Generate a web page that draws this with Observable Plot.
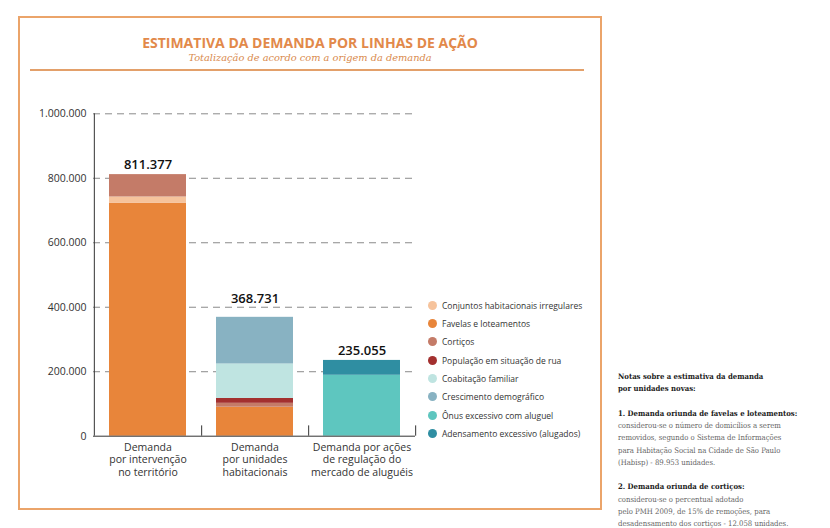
<!DOCTYPE html>
<html>
<head>
<meta charset="utf-8">
<script src="https://cdn.jsdelivr.net/npm/d3@7"></script>
<script src="https://cdn.jsdelivr.net/npm/@observablehq/plot@0.6"></script>
<style>
  html, body { margin: 0; padding: 0; background: #fff; }
  #page { position: relative; width: 830px; height: 528px; overflow: hidden; font-family: "Open Sans", sans-serif; }
  #frame { position: absolute; left: 18px; top: 16px; width: 580px; height: 490px; border: 2px solid #eba46a; }
  #title { position: absolute; left: 18px; width: 584px; top: 35px; line-height: 16px; text-align: center; font-weight: 700; font-size: 14px; font-family: "Open Sans", sans-serif; color: #e2894a; }
  #subtitle { position: absolute; left: 18px; width: 584px; top: 52px; line-height: 12px; text-align: center; font-style: italic; font-size: 9.8px; font-family: "DejaVu Serif", serif; color: #d98a4d; }
  #rule { position: absolute; left: 30px; width: 554px; top: 69px; height: 2px; background: #e3a06a; }
  #chart { position: absolute; left: 0; top: 100px; }
  #legend { position: absolute; left: 428px; top: 296px; font: 8.5px "Open Sans", sans-serif; color: #333; }
  .lg { height: 18.33px; display: flex; align-items: center; white-space: nowrap; }
  .dot { width: 9px; height: 9px; border-radius: 50%; margin-right: 5px; flex: none; }
  #notes { position: absolute; left: 618px; top: 371px; font: 7.7px "DejaVu Serif Condensed", "DejaVu Serif", serif; line-height: 12.25px; color: #666; white-space: nowrap; }
  #notes b { color: #222; font-weight: 600; }
</style>
</head>
<body>
<div id="page">
  <div id="frame"></div>
  <div id="title"></div>
  <div id="subtitle"></div>
  <div id="rule"></div>
  <div id="chart"></div>
  <div id="legend"></div>
  <div id="notes"></div>
</div>
<script>
const titleText = "ESTIMATIVA DA DEMANDA POR LINHAS DE AÇÃO";
const subtitleText = "Totalização de acordo com a origem da demanda";

const categories = [
  "Demanda\npor intervenção\nno território",
  "Demanda\npor unidades\nhabitacionais",
  "Demanda por ações\nde regulação do\nmercado de aluguéis"
];

// stacking order (bottom to top)
const series = [
  "Favelas e loteamentos",
  "Conjuntos habitacionais irregulares",
  "Cortiços",
  "População em situação de rua",
  "Coabitação familiar",
  "Crescimento demográfico",
  "Ônus excessivo com aluguel",
  "Adensamento excessivo (alugados)"
];
const seriesColors = ["#e8853a", "#f6c39c", "#c47b68", "#a3302f", "#bfe4e1", "#88b2c2", "#5ec6bf", "#2f8ea2"];

const legendOrder = [
  "Conjuntos habitacionais irregulares",
  "Favelas e loteamentos",
  "Cortiços",
  "População em situação de rua",
  "Coabitação familiar",
  "Crescimento demográfico",
  "Ônus excessivo com aluguel",
  "Adensamento excessivo (alugados)"
];

// values per category, aligned with `series`
const valuesTerritorio = [723000, 19000, 69377, 0, 0, 0, 0, 0];
const valuesUnidades   = [89953, 0, 12058, 15000, 107000, 144720, 0, 0];
const valuesAluguel    = [0, 0, 0, 0, 0, 0, 189000, 46055];
const totals = [811377, 368731, 235055];

const yTicks = [0, 200000, 400000, 600000, 800000, 1000000];
const gridTicks = [200000, 400000, 600000, 800000, 1000000];

const notesLines = [
  ["b", "Notas sobre a estimativa da demanda"],
  ["b", "por unidades novas:"],
  ["", ""],
  ["b", "1. Demanda oriunda de favelas e loteamentos:"],
  ["", "considerou-se o número de domicílios a serem"],
  ["", "removidos, segundo o Sistema de Informações"],
  ["", "para Habitação Social na Cidade de São Paulo"],
  ["", "(Habisp) - 89.953 unidades."],
  ["", ""],
  ["b", "2. Demanda oriunda de cortiços:"],
  ["", "considerou-se o percentual adotado"],
  ["", "pelo PMH 2009, de 15% de remoções, para"],
  ["", "desadensamento dos cortiços - 12.058 unidades."]
];

// ---- build ----
const ptBR = d3.formatLocale({decimal: ",", thousands: ".", grouping: [3], currency: ["R$", ""]});
const fmt = ptBR.format(",");

const valueTable = [valuesTerritorio, valuesUnidades, valuesAluguel];
const rows = [];
categories.forEach((c, i) => series.forEach((s, j) => {
  if (valueTable[i][j] > 0) rows.push({cat: c, series: s, value: valueTable[i][j]});
}));
const totalRows = categories.map((c, i) => ({cat: c, total: totals[i]}));

const W = 600, H = 390, mL = 93, mR = 185, mT = 13.3, mB = 54.3;
const step = (W - mL - mR) / categories.length;

const chart = Plot.plot({
  width: W, height: H,
  marginLeft: mL, marginRight: mR, marginTop: mT, marginBottom: mB,
  style: {fontFamily: "'Open Sans', sans-serif", fontSize: "10.5px", color: "#333", background: "transparent"},
  x: {domain: categories, padding: 0, axis: null},
  y: {domain: [0, 1000000], ticks: yTicks, tickFormat: fmt, label: null, tickSize: 0, tickPadding: 7},
  color: {domain: series, range: seriesColors},
  marks: [
    Plot.ruleY(gridTicks, {stroke: "#8a8a8a", strokeWidth: 1, strokeDasharray: "7,5"}),
    Plot.barY(rows, {x: "cat", y: "value", fill: "series", insetLeft: 15, insetRight: 15}),
    Plot.text(totalRows, {filter: (d, i) => i !== 1, x: "cat", y: "total", text: d => fmt(d.total), dy: -10, fontSize: 13, fontWeight: 600, fill: "#111"}),
    Plot.text(totalRows, {filter: (d, i) => i === 1, x: "cat", y: "total", text: d => fmt(d.total), dy: -18, fontSize: 13, fontWeight: 600, fill: "#111"}),
    Plot.text(categories, {x: d => d, y: 0, text: d => d, lineAnchor: "top", lineHeight: 1.18, dy: 6, fontSize: 10.5, fill: "#333"}),
    Plot.ruleX(categories, {x: d => d, dx: step / 2, y1: 0, y2: 32000, stroke: "#333"}),
    Plot.ruleX([categories[0]], {x: d => d, dx: -step / 2, y1: 0, y2: 1000000, stroke: "#333"}),
    Plot.ruleY([0], {stroke: "#333"})
  ]
});
document.getElementById("chart").appendChild(chart);

document.getElementById("title").textContent = titleText;
document.getElementById("subtitle").textContent = subtitleText;

const legend = document.getElementById("legend");
legendOrder.forEach(name => {
  const row = document.createElement("div");
  row.className = "lg";
  const dot = document.createElement("span");
  dot.className = "dot";
  dot.style.background = seriesColors[series.indexOf(name)];
  const label = document.createElement("span");
  label.textContent = name;
  row.appendChild(dot); row.appendChild(label);
  legend.appendChild(row);
});

const notes = document.getElementById("notes");
notesLines.forEach(([kind, txt]) => {
  const line = document.createElement("div");
  if (kind === "b") { const b = document.createElement("b"); b.textContent = txt; line.appendChild(b); }
  else line.textContent = txt || "\u00a0";
  notes.appendChild(line);
});
</script>
</body>
</html>
